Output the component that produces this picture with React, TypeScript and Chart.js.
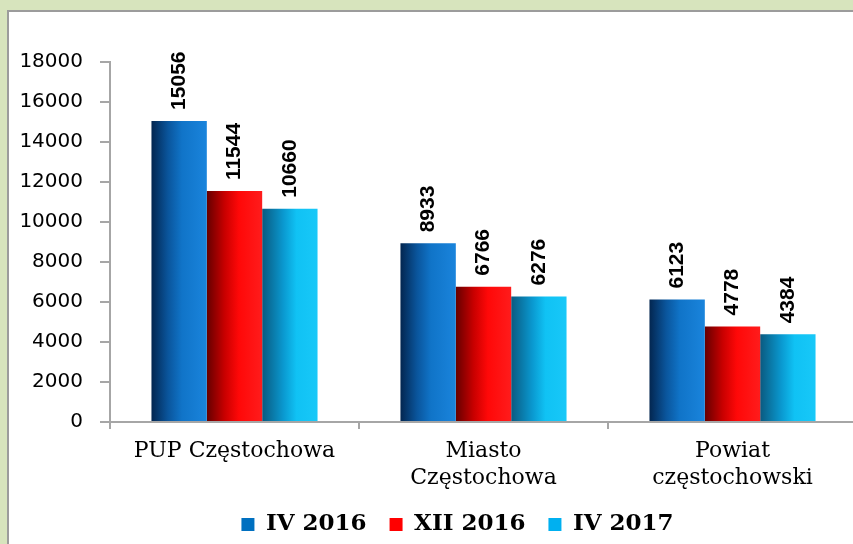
import React, { useEffect, useRef } from "react";
import { Chart, registerables } from "chart.js";

Chart.register(...registerables);

const categories: string[][] = [["PUP Częstochowa"], ["Miasto", "Częstochowa"], ["Powiat", "częstochowski"]];
const seriesNames = ["IV 2016", "XII 2016", "IV 2017"];
const iv2016 = [15056, 8933, 6123];
const xii2016 = [11544, 6766, 4778];
const iv2017 = [10660, 6276, 4384];
const yMin = 0;
const yMax = 18000;
const yStep = 2000;

const solidColors = ["#0070c0", "#ff0000", "#00b0f0"];
const gradientStops: [number, string][][] = [
  [[0, "#032650"], [0.3, "#0a559c"], [0.55, "#1074c8"], [1, "#1a84dc"]],
  [[0, "#650000"], [0.32, "#c80000"], [0.58, "#ff0808"], [1, "#ff1c1c"]],
  [[0, "#0a5a80"], [0.38, "#0a98cf"], [0.62, "#10c2f4"], [1, "#18c8f8"]],
];

const CANVAS_W = 860;
const CANVAS_H = 556;

const gradientPlugin = {
  id: "barGradient",
  beforeDatasetsDraw(chart: any) {
    const ctx = chart.ctx as CanvasRenderingContext2D;
    chart.data.datasets.forEach((_ds: any, di: number) => {
      const meta = chart.getDatasetMeta(di);
      meta.data.forEach((bar: any) => {
        const left = bar.x - bar.width / 2;
        const g = ctx.createLinearGradient(left, 0, left + bar.width, 0);
        gradientStops[di].forEach(([o, c]) => g.addColorStop(o, c));
        bar.options = { ...bar.options, backgroundColor: g };
      });
    });
  },
};

const labelPlugin = {
  id: "valueLabels",
  afterDatasetsDraw(chart: any) {
    const ctx = chart.ctx as CanvasRenderingContext2D;
    ctx.save();
    ctx.font = "bold 21px 'Liberation Sans', Arial, sans-serif";
    ctx.fillStyle = "#000000";
    ctx.textAlign = "left";
    ctx.textBaseline = "middle";
    chart.data.datasets.forEach((ds: any, di: number) => {
      const meta = chart.getDatasetMeta(di);
      meta.data.forEach((bar: any, i: number) => {
        ctx.save();
        ctx.translate(bar.x, bar.y - 11);
        ctx.rotate(-Math.PI / 2);
        ctx.fillText(String(ds.data[i]), 0, 0);
        ctx.restore();
      });
    });
    ctx.restore();
  },
};

// Place the legend block: centred under the whole picture.
const legendPlacement = {
  id: "legendPlacement",
  beforeDraw(chart: any) {
    const lg = chart.legend;
    if (!lg) return;
    const h = lg.bottom - lg.top;
    lg.left = 58;
    lg.top = 490;
    lg.bottom = lg.top + h;
  },
};

export default function App() {
  const ref = useRef<HTMLCanvasElement | null>(null);
  useEffect(() => {
    if (!ref.current) return;
    const axisColor = "#a6a6a6";
    const chart = new Chart(ref.current, {
      type: "bar",
      data: {
        labels: categories,
        datasets: [iv2016, xii2016, iv2017].map((d, i) => ({
          label: seriesNames[i],
          data: d,
          backgroundColor: solidColors[i],
          borderWidth: 0,
          categoryPercentage: 0.667,
          barPercentage: 1,
        })),
      },
      options: {
        animation: false,
        responsive: false,
        maintainAspectRatio: false,
        layout: { padding: { left: 0, right: 3, top: 62, bottom: 0 } },
        plugins: {
          tooltip: { enabled: false },
          legend: {
            position: "bottom",
            labels: {
              boxWidth: 13,
              boxHeight: 13,
              padding: 23,
              color: "#000000",
              font: { family: "'DejaVu Serif', serif", size: 23, weight: "bold" },
            },
          },
        },
        scales: {
          x: {
            grid: { display: true, drawOnChartArea: false, drawTicks: true, tickLength: 7, color: axisColor, lineWidth: 2, offset: true },
            border: { display: true, color: axisColor, width: 2 },
            ticks: {
              color: "#000000",
              padding: 8.5,
              maxRotation: 0,
              autoSkip: false,
              font: { family: "'DejaVu Serif', serif", size: 22, lineHeight: 27 / 22 },
            },
          },
          y: {
            min: yMin,
            max: yMax,
            afterFit: (scale: any) => {
              scale.width = 110;
            },
            grid: { display: true, drawOnChartArea: false, drawTicks: true, tickLength: 10, color: axisColor, lineWidth: 2 },
            border: { display: true, color: axisColor, width: 2 },
            ticks: {
              stepSize: yStep,
              padding: 17,
              color: "#000000",
              callback: (v: any) => String(v),
              font: { family: "'DejaVu Sans', sans-serif", size: 20 },
            },
          },
        },
      },
      plugins: [gradientPlugin, labelPlugin, legendPlacement],
    });
    return () => chart.destroy();
  }, []);

  return (
    <div style={{ position: "fixed", left: 0, top: 0, width: 853, height: 544, overflow: "hidden", background: "#d7e4bd" }}>
      <div
        style={{
          position: "absolute",
          left: 7,
          top: 10,
          width: 900,
          height: 600,
          background: "#ffffff",
          borderLeft: "2px solid #9c9c9c",
          borderTop: "2px solid #9c9c9c",
        }}
      />
      <canvas
        ref={ref}
        width={CANVAS_W}
        height={CANVAS_H}
        style={{ position: "absolute", left: 0, top: 0, width: CANVAS_W, height: CANVAS_H }}
      />
    </div>
  );
}
